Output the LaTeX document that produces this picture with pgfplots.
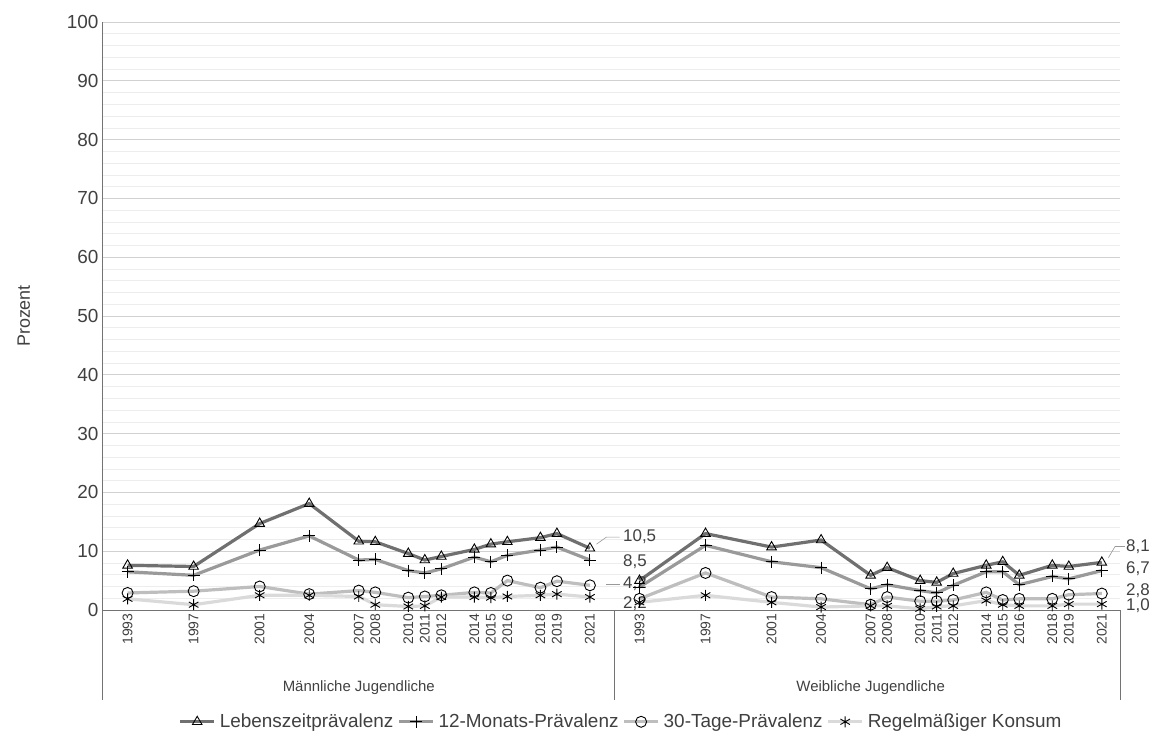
\documentclass[border=0pt]{standalone}
\usepackage{pgfplots}
\pgfplotsset{compat=1.18}
\usepackage{fontspec}
\setmainfont{Liberation Sans}
\definecolor{cA}{HTML}{707070}
\definecolor{cB}{HTML}{9A9A9A}
\definecolor{cC}{HTML}{BEBEBE}
\definecolor{cD}{HTML}{DADADA}
\begin{document}
\begin{tikzpicture}
\path[use as bounding box] (-102bp,-130bp) rectangle (1054bp,610bp);
\begin{axis}[
  at={(0,0)}, anchor=south west,
  scale only axis, width=1018bp, height=588bp,
  xmin=-1.55, xmax=60.1, ymin=0, ymax=100,
  axis line style={draw=none},
  ytick={0,10,...,100}, minor ytick={2,4,...,98},
  ymajorgrids, yminorgrids,
  major tick length=0pt, minor tick length=0pt,
  major grid style={draw=black!18, line width=0.8bp},
  minor grid style={draw=black!7, line width=0.6bp},
  yticklabel style={font=\fontsize{19}{22}\selectfont, text=black!75},
  /pgf/number format/assume math mode=true,
  ylabel={Prozent}, ylabel style={font=\fontsize{18}{21}\selectfont, text=black!75, yshift=30bp},
  xtick={0,4,8,11,14,15,17,18,19,21,22,23,25,26,28,31,35,39,42,45,46,48,49,50,52,53,54,56,57,59},
  xticklabels={1993,1997,2001,2004,2007,2008,2010,2011,2012,2014,2015,2016,2018,2019,2021,1993,1997,2001,2004,2007,2008,2010,2011,2012,2014,2015,2016,2018,2019,2021},
  xticklabel style={rotate=90, anchor=east, font=\fontsize{14}{16}\selectfont, text=black!75},
  unbounded coords=jump, clip=false,
  every axis plot/.append style={line width=3.2bp},
  legend style={at={(0.5,0)}, anchor=north, xshift=10bp, yshift=-100bp, draw=none, font=\fontsize{19}{22}\selectfont, text=black!75, column sep=2bp},
  legend columns=4,
  legend image code/.code={\draw[#1] (0bp,0bp) -- (34bp,0bp); \draw[#1,only marks] plot coordinates {(17bp,0bp)};},
]
\draw[black!55, line width=0.8bp] (axis cs:-1.55,0) -- (axis cs:60.1,0);
\draw[black!55, line width=0.8bp] ([yshift=-90bp]axis cs:-1.55,0) -- (axis cs:-1.55,100);
\draw[black!55, line width=0.8bp] (axis cs:29.5,0) -- ([yshift=-90bp]axis cs:29.5,0);
\draw[black!55, line width=0.8bp] (axis cs:60.1,0) -- ([yshift=-90bp]axis cs:60.1,0);
\node[font=\fontsize{15}{18}\selectfont, text=black!75] at ([yshift=-78bp]axis cs:14,0) {Männliche Jugendliche};
\node[font=\fontsize{15}{18}\selectfont, text=black!75] at ([yshift=-78bp]axis cs:45,0) {Weibliche Jugendliche};

\addplot[cA, mark=triangle, mark size=5.5bp, mark options={black, fill=white, line width=0.9bp}] coordinates {
(0,7.6)(4,7.4)(8,14.7)(11,18.1)(14,11.7)(15,11.6)(17,9.6)(18,8.5)(19,9.1)(21,10.3)(22,11.2)(23,11.6)(25,12.3)(26,13.0)(28,10.5)
(29.5,nan)
(31,5.0)(35,13.0)(39,10.7)(42,11.9)(45,5.9)(46,7.2)(48,5.0)(49,4.7)(50,6.2)(52,7.6)(53,8.2)(54,5.9)(56,7.6)(57,7.4)(59,8.1)};
\addlegendentry{Lebenszeitprävalenz}
\addplot[cB, mark=+, mark size=6bp, mark options={black, line width=0.9bp}] coordinates {
(0,6.5)(4,5.9)(8,10.2)(11,12.6)(14,8.5)(15,8.6)(17,6.7)(18,6.3)(19,7.0)(21,9.0)(22,8.2)(23,9.3)(25,10.2)(26,10.7)(28,8.5)
(29.5,nan)
(31,3.9)(35,11.0)(39,8.2)(42,7.2)(45,3.6)(46,4.3)(48,3.3)(49,2.9)(50,4.2)(52,6.5)(53,6.5)(54,4.3)(56,5.7)(57,5.3)(59,6.7)};
\addlegendentry{12-Monats-Prävalenz}
\addplot[cC, mark=o, mark size=5.5bp, mark options={black, fill=white, line width=0.9bp}] coordinates {
(0,2.9)(4,3.2)(8,4.0)(11,2.7)(14,3.3)(15,3.0)(17,2.1)(18,2.3)(19,2.5)(21,3.0)(22,2.9)(23,5.0)(25,3.8)(26,4.9)(28,4.2)
(29.5,nan)
(31,1.9)(35,6.3)(39,2.2)(42,1.9)(45,0.9)(46,2.2)(48,1.5)(49,1.5)(50,1.7)(52,3.0)(53,1.7)(54,1.9)(56,1.9)(57,2.6)(59,2.8)};
\addlegendentry{30-Tage-Prävalenz}
\addplot[cD, mark=asterisk, mark size=5.5bp, mark options={black, line width=0.9bp}] coordinates {
(0,1.9)(4,0.9)(8,2.5)(11,2.5)(14,2.3)(15,0.9)(17,0.6)(18,0.7)(19,2.2)(21,2.2)(22,2.1)(23,2.3)(25,2.5)(26,2.7)(28,2.2)
(29.5,nan)
(31,1.3)(35,2.5)(39,1.3)(42,0.5)(45,0.7)(46,0.7)(48,0.2)(49,0.6)(50,0.7)(52,1.6)(53,0.9)(54,0.7)(56,0.7)(57,1.0)(59,1.0)};
\addlegendentry{Regelmäßiger Konsum}

\node[anchor=west, font=\fontsize{17}{20}\selectfont, text=black!75] at (axis cs:29.8,12.4) {10,5};
\draw[black!40, line width=0.6bp] (axis cs:28.4,11.2) -- (axis cs:29.0,12.4) -- (axis cs:29.8,12.4);
\node[anchor=west, font=\fontsize{17}{20}\selectfont, text=black!75] at (axis cs:29.8,8.3) {8,5};
\node[anchor=west, font=\fontsize{17}{20}\selectfont, text=black!75] at (axis cs:29.8,4.4) {4,2};
\draw[black!40, line width=0.6bp] (axis cs:29.0,4.4) -- (axis cs:29.8,4.4);
\node[anchor=west, font=\fontsize{17}{20}\selectfont, text=black!75] at (axis cs:29.8,1.1) {2,2};
\node[anchor=west, inner sep=1bp, font=\fontsize{17}{20}\selectfont, text=black!75] at (axis cs:60.4,10.8) {8,1};
\draw[black!40, line width=0.6bp] (axis cs:59.4,8.9) -- (axis cs:59.8,10.8) -- (axis cs:60.4,10.8);
\node[anchor=west, inner sep=1bp, font=\fontsize{17}{20}\selectfont, text=black!75] at (axis cs:60.4,7.0) {6,7};
\node[anchor=west, inner sep=1bp, font=\fontsize{17}{20}\selectfont, text=black!75] at (axis cs:60.4,3.3) {2,8};
\node[anchor=west, inner sep=1bp, font=\fontsize{17}{20}\selectfont, text=black!75] at (axis cs:60.4,0.7) {1,0};
\end{axis}
\end{tikzpicture}
\end{document}
